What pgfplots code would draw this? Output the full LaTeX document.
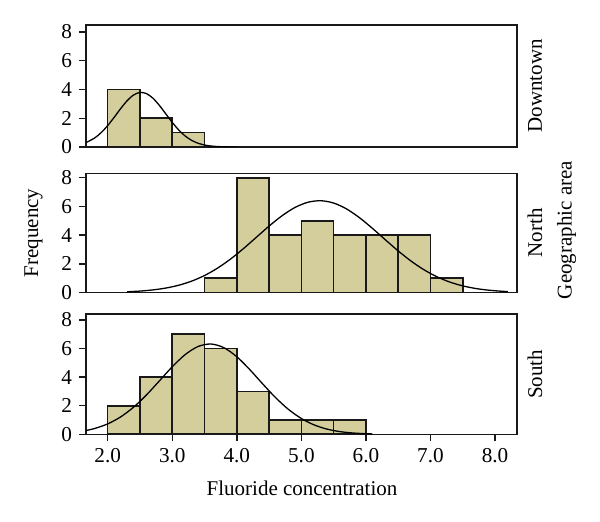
\documentclass[border=0pt]{standalone}
\usepackage{fontspec}
\setmainfont{Liberation Serif}
\usepackage{pgfplots}
\pgfplotsset{compat=1.18}
\definecolor{barfill}{RGB}{211,206,155}
\definecolor{edge}{RGB}{25,25,25}
\pgfplotsset{
  panel/.style={scale only axis, width=215.5pt, xmin=1.664, xmax=8.34, ymin=0,
    ytick={0,2,4,6,8}, tick pos=left, tick align=outside, major tick length=3.5pt,
    axis line style={line width=0.7pt, edge}, major tick style={line width=0.7pt, edge},
    tick label style={font=\fontsize{10.6}{12}\selectfont},
    /pgf/number format/assume math mode=true, anchor=south west},
  bars/.style={ybar, bar width=0.5, bar shift=0pt, fill=barfill, draw=edge, line width=0.8pt},
  curve/.style={black, line width=0.65pt, smooth, mark=none}
}
\begin{document}
\begin{tikzpicture}
\path[use as bounding box] (0,0) rectangle (300pt,261pt);
% Downtown
\begin{axis}[panel, at={(43pt,187.5pt)}, height=61pt, ymax=8.49, xtick=\empty]
\addplot[bars] coordinates {(2.25,4) (2.75,2) (3.25,1)};
\addplot[curve] coordinates {(1.66,0.293) (1.8,0.631) (1.9,1.004) (2.0,1.490) (2.1,2.063) (2.2,2.665) (2.3,3.214) (2.4,3.615) (2.5,3.795) (2.6,3.716) (2.7,3.397) (2.8,2.896) (2.9,2.305) (3.0,1.711) (3.1,1.186) (3.2,0.766) (3.3,0.462) (3.4,0.260) (3.5,0.136) (3.6,0.067) (3.7,0.031) (3.8,0.013) (3.9,0.005) (4.0,0.002)};
\end{axis}
% North
\begin{axis}[panel, at={(43pt,114.7pt)}, height=59.65pt, ymax=8.31, xtick=\empty]
\addplot[bars] coordinates {(3.75,1) (4.25,8) (4.75,4) (5.25,5) (5.75,4) (6.25,4) (6.75,4) (7.25,1)};
\addplot[curve] coordinates {(2.3,0.057) (2.5,0.105) (2.7,0.186) (2.9,0.315) (3.1,0.512) (3.3,0.797) (3.5,1.188) (3.7,1.699) (3.9,2.326) (4.1,3.053) (4.3,3.842) (4.5,4.632) (4.7,5.352) (4.9,5.927) (5.1,6.291) (5.3,6.399) (5.5,6.238) (5.7,5.827) (5.9,5.217) (6.1,4.477) (6.3,3.682) (6.5,2.902) (6.7,2.192) (6.9,1.587) (7.1,1.101) (7.3,0.732) (7.5,0.466) (7.7,0.285) (7.9,0.167) (8.1,0.094) (8.2,0.069)};
\end{axis}
% South
\begin{axis}[panel, at={(43pt,43.85pt)}, height=60.15pt, ymax=8.42,
  xtick={2,3,4,5,6,7,8}, xticklabels={2.0,3.0,4.0,5.0,6.0,7.0,8.0}]
\addplot[bars] coordinates {(2.25,2) (2.75,4) (3.25,7) (3.75,6) (4.25,3) (4.75,1) (5.25,1) (5.75,1)};
\addplot[curve] coordinates {(1.66,0.26) (1.8,0.407) (2.0,0.728) (2.2,1.215) (2.4,1.893) (2.6,2.752) (2.8,3.733) (3.0,4.724) (3.2,5.577) (3.4,6.145) (3.6,6.318) (3.8,6.061) (4.0,5.425) (4.2,4.531) (4.4,3.531) (4.6,2.568) (4.8,1.742) (5.0,1.103) (5.2,0.652) (5.4,0.359) (5.6,0.185) (5.8,0.089) (6.0,0.040) (6.1,0.026)};
\end{axis}
\begin{scope}[every node/.style={font=\fontsize{10.5}{12}\selectfont, inner sep=0pt}]
\node[rotate=90] at (267.5pt,218pt) {Downtown};
\node[rotate=90] at (267.5pt,144.5pt) {North};
\node[rotate=90] at (267.5pt,73.9pt) {South};
\node[rotate=90] at (283.3pt,146pt) {Geographic area};
\node[rotate=90] at (16.75pt,144.5pt) {Frequency};
\node at (151pt,16.75pt) {Fluoride concentration};
\end{scope}
\end{tikzpicture}
\end{document}
